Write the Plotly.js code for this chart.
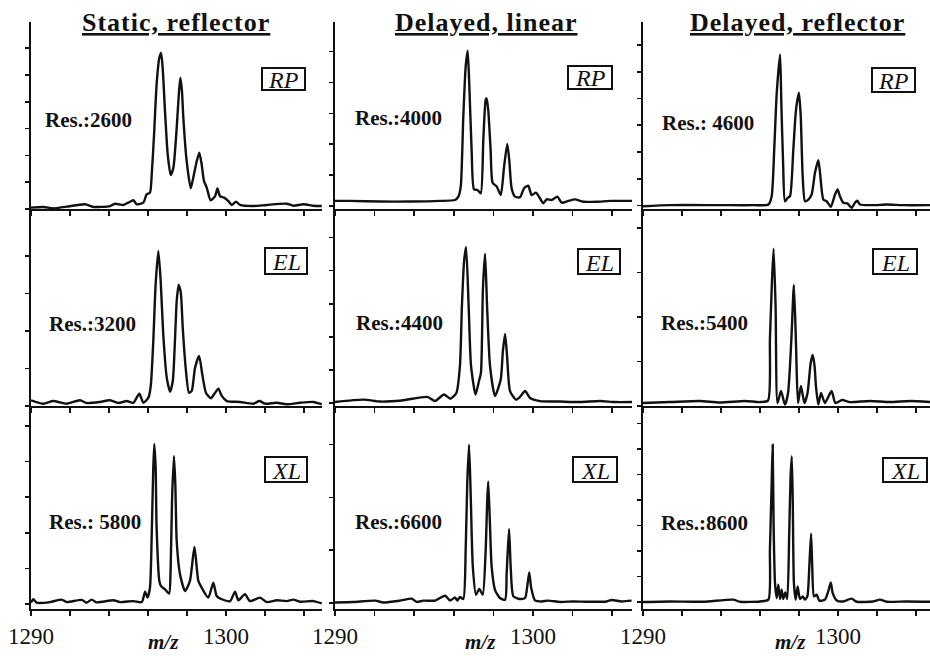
<!DOCTYPE html>
<html>
<head>
<meta charset="utf-8">
<script src="https://cdn.plot.ly/plotly-3.0.1.min.js"></script>
<style>
  html, body { margin: 0; padding: 0; background: #ffffff; }
  #chart { width: 930px; height: 656px; }
</style>
</head>
<body>
<div id="chart"></div>
<script>
// ---- Spectra: m/z and relative intensity (tallest peak of each trace = 100) ----

// Static extraction, reflector mode
const mzStaticRP = [1290.0,1290.63,1291.15,1291.83,1292.77,1293.2,1294.05,1294.31,1294.74,1294.99,1295.25,1295.42,1295.76,1295.93,1296.1,1296.19,1296.31,1296.44,1296.58,1296.67,1296.75,1296.87,1297.01,1297.16,1297.3,1297.47,1297.59,1297.66,1297.74,1297.81,1297.98,1298.19,1298.32,1298.5,1298.63,1298.75,1298.87,1299.01,1299.21,1299.44,1299.56,1299.69,1299.9,1300.12,1300.29,1300.51,1300.72,1301.4,1302.09,1303.11,1303.45,1303.97,1304.48,1304.91];
const intStaticRP = [0.9,1.3,0.4,1.5,3.0,1.3,1.9,3.4,2.6,4.1,5.6,3.0,4.1,9.4,10.5,22.2,47.9,79.9,97,100,90.6,62.8,35,21.8,26.5,52.1,75.6,84.2,75.6,58.5,30.8,13.2,20.1,30.8,36.1,28.6,17.9,13.7,5.6,8.3,13.2,8.3,7.3,5.1,2.6,4.7,2.6,1.9,2.6,3.4,2.1,3.0,2.1,1.9];

const mzStaticEL = [1290.0,1290.63,1291.14,1291.83,1292.51,1292.86,1293.54,1294.05,1294.48,1294.91,1295.25,1295.55,1295.76,1296.02,1296.14,1296.27,1296.39,1296.53,1296.65,1296.78,1296.96,1297.13,1297.27,1297.38,1297.47,1297.57,1297.68,1297.78,1297.93,1298.1,1298.24,1298.41,1298.62,1298.78,1298.97,1299.22,1299.44,1299.61,1299.78,1300.04,1300.72,1301.4,1301.71,1302.0,1302.6,1303.11,1303.79,1304.48,1304.91];
const intStaticEL = [3.7,1.5,3.2,1.5,3.7,1.9,2.6,3.7,1.9,3.2,2.1,7.9,2.1,5.4,12.9,41.9,78.5,100,80.6,46.3,18.3,9.2,16.1,41.9,67.7,78.1,73.1,50.5,24.7,8.6,9.7,24.7,32.3,20.5,8.6,5.0,8.6,11.2,6.5,3.2,2.6,1.5,3.2,1.5,2.1,1.1,2.1,2.6,1.1];

const mzStaticXL = [1290.0,1290.12,1290.29,1290.97,1291.57,1291.83,1292.6,1292.85,1293.11,1293.37,1294.22,1294.56,1295.25,1295.68,1295.85,1295.97,1296.1,1296.19,1296.27,1296.32,1296.39,1296.44,1296.58,1296.67,1296.87,1297.08,1297.16,1297.23,1297.33,1297.4,1297.47,1297.64,1297.9,1298.15,1298.38,1298.58,1298.75,1299.09,1299.35,1299.52,1299.78,1300.21,1300.46,1300.63,1300.97,1301.23,1301.74,1302.09,1302.6,1303.11,1303.45,1303.79,1304.48,1304.91];
const intStaticXL = [3.8,5.9,3.8,4.2,5.7,4.2,5.5,3.8,5.7,4.0,5.3,4.2,4.8,4.2,10.5,6.9,12.9,45.3,85.7,100,85.7,49.3,17,13.9,11.9,9.3,25,65.5,92.7,75.6,41.2,21,10.9,17,37.6,17,12.9,6.9,16,7.9,5.9,4.8,10.5,5.3,8.9,4.8,6.9,4.2,5.3,4.8,5.7,4.4,4.8,3.4];

// Delayed extraction, linear mode
const mzLinearRP = [1290.0,1290.76,1292.27,1293.79,1295.3,1296.06,1296.23,1296.35,1296.48,1296.6,1296.7,1296.78,1296.9,1297.02,1297.19,1297.36,1297.49,1297.61,1297.66,1297.74,1297.86,1297.96,1298.17,1298.37,1298.54,1298.7,1298.8,1298.92,1299.09,1299.34,1299.55,1299.76,1299.93,1300.15,1300.35,1300.52,1300.69,1300.94,1301.23,1301.45,1301.78,1302.12,1302.54,1303.22,1303.89,1305.0];
const intLinearRP = [5.1,5.1,4.7,4.7,5.1,5.7,7.8,14.1,58.3,89.9,100,79.4,37.3,12.4,12,9.9,43.6,68.9,69.9,62.5,37.3,16.6,14.1,8.8,26.7,41.1,31,13.1,7.8,7.4,13.1,14.7,8.8,10.3,6.8,3.6,6.1,5.7,7.8,4,5.1,6.1,4.6,4.6,5.1,5.1];

const mzLinearEL = [1290.0,1291.44,1292.27,1293.38,1294.66,1295.05,1295.5,1295.83,1296.13,1296.31,1296.41,1296.52,1296.62,1296.75,1296.87,1297.1,1297.27,1297.37,1297.47,1297.58,1297.68,1297.83,1298.08,1298.37,1298.48,1298.59,1298.69,1298.84,1299.14,1299.34,1299.6,1299.85,1300.35,1301.36,1302.37,1303.38,1304.14,1305.0];
const intLinearEL = [2.5,4.0,2.8,3.5,5.7,3.1,7.2,4.6,8.2,25.2,62.9,91.2,100,62.9,25.2,7.2,15.7,20.8,73.6,95.8,62.9,25.2,6.3,16.7,34.6,45.3,31.4,9.4,4.0,5.7,9.4,5.0,3.1,2.8,2.5,3.1,2.5,2.5];

const mzLinearXL = [1290.0,1290.92,1292.02,1292.44,1293.28,1293.87,1294.13,1294.46,1295.05,1295.56,1295.81,1296.06,1296.18,1296.31,1296.48,1296.6,1296.68,1296.77,1296.86,1296.96,1297.12,1297.29,1297.46,1297.61,1297.69,1297.74,1297.83,1297.91,1298.08,1298.33,1298.59,1298.67,1298.79,1298.88,1299.01,1299.34,1299.6,1299.71,1299.81,1299.91,1300.1,1300.44,1300.77,1301.36,1302.04,1302.71,1303.72,1303.97,1304.48,1304.98];
const intLinearXL = [4.0,4.3,5.1,4.0,5.1,6.3,4.3,5.1,5.1,8.1,5.1,7.1,5.1,7.3,6.1,36.1,76.7,100,66.5,25.9,8.7,12.2,8.7,36.1,66.5,77.7,50.3,25.9,11.7,6.7,5.7,21.9,48.7,23.9,7.7,6.1,6.7,13.8,22.3,12.8,5.2,4.6,5.1,4.3,4.6,4.4,4.6,5.5,4.6,5.1];

// Delayed extraction, reflector mode
const mzReflRP = [1290.0,1291.38,1293.95,1295.66,1296.43,1296.6,1296.73,1296.86,1297.03,1297.09,1297.19,1297.28,1297.42,1297.54,1297.71,1297.85,1298.0,1298.09,1298.19,1298.31,1298.48,1298.65,1298.82,1298.99,1299.08,1299.25,1299.42,1299.63,1299.85,1299.98,1300.1,1300.27,1300.48,1300.7,1300.87,1300.99,1301.13,1301.81,1302.5,1303.35,1304.72];
const intReflRP = [1.8,2.5,2.5,2.5,2.9,8.3,38.5,75.2,100,70.9,27.7,5,7.2,8.3,38.5,64.4,75.2,60.1,21.2,5,6.1,9.4,23.4,31.6,23.4,6.1,5,1.4,9.4,12.6,8.3,4,3.6,0.8,4,5.3,2.9,2.5,2.9,2.5,2.5];

const mzReflEL = [1290.0,1291.38,1292.92,1293.95,1295.23,1296.0,1296.41,1296.51,1296.62,1296.7,1296.8,1296.9,1297.08,1297.28,1297.44,1297.61,1297.74,1297.85,1297.95,1298.1,1298.28,1298.44,1298.6,1298.7,1298.8,1298.87,1298.99,1299.13,1299.33,1299.67,1299.87,1300.21,1300.62,1301.64,1302.67,1303.69,1304.72];
const intReflEL = [1.9,2.5,3.2,2.2,3.2,2.5,3.4,42.6,80.8,100,63.5,1.9,9.5,0.9,8.3,42.6,76.9,38.1,1.9,12.7,1.9,8.3,27.3,32.4,25.4,12.7,0.9,8.3,1.9,9.5,1.9,3.8,2.5,3.2,2.5,3.2,2.5];

const mzReflXL = [1290.0,1291.38,1293.09,1294.63,1294.97,1296.0,1296.43,1296.51,1296.6,1296.65,1296.7,1296.77,1296.86,1296.94,1297.03,1297.11,1297.19,1297.3,1297.4,1297.5,1297.57,1297.63,1297.68,1297.74,1297.83,1297.93,1298.05,1298.19,1298.31,1298.43,1298.53,1298.62,1298.68,1298.77,1298.91,1299.04,1299.33,1299.5,1299.63,1299.73,1299.94,1300.27,1300.7,1300.96,1301.81,1302.15,1302.5,1303.52,1304.72];
const intReflXL = [4.3,4.6,4.4,5.7,4.4,4.6,5.7,36.1,76.7,100,50.3,15.8,6.7,14.8,6.1,11.7,6.1,10.1,6.1,46.3,80.7,92.9,66.5,15.8,5.7,13.8,6.1,7.7,5.7,7.7,25.9,45.8,25.9,7.7,8.7,5.1,5.7,10.7,16.2,9.7,5.2,4.6,6.3,4.4,4.6,5.7,4.4,4.6,4.4];

// ---- Labels ----
const columnTitles = ['Static, reflector', 'Delayed, linear', 'Delayed, reflector'];
const detectorModes = ['RP', 'EL', 'XL'];
const resolutionLabels = [
  ['Res.:2600', 'Res.:4000', 'Res.: 4600'],
  ['Res.:3200', 'Res.:4400', 'Res.:5400'],
  ['Res.: 5800', 'Res.:6600', 'Res.:8600']
];
const xTickValues = [1290, 1292, 1294, 1296, 1298, 1300, 1302, 1304];
const xTickLabels = ['1290', '', '', '', '', '1300', '', ''];
const xAxisTitle = 'm/z';

// rows = detector modes, columns = instrument setups
const spectra = [
  [[mzStaticRP, intStaticRP], [mzLinearRP, intLinearRP], [mzReflRP, intReflRP]],
  [[mzStaticEL, intStaticEL], [mzLinearEL, intLinearEL], [mzReflEL, intReflEL]],
  [[mzStaticXL, intStaticXL], [mzLinearXL, intLinearXL], [mzReflXL, intReflXL]]
];

// ---- Page geometry (pixels) ----
const W = 930, H = 656;
const colSpan = [[31, 322], [335, 632], [643, 930]];
const rowSpan = [[22, 209], [209, 406], [406, 609]];
const colXMax = [1304.92, 1305.0, 1304.72];
// per panel: top of y range, first tick, tick step, tick count
const yStyle = [
  [[119.9, 0, 17.2, 7], [118.1, 1.9, 19.5, 6], [121.0, 2.3, 17.3, 7]],
  [[127.1, 0, 24.2, 5], [123.9, 1.9, 20.8, 6], [125.2, 0, 28.3, 5]],
  [[123.0, 3, 21.6, 6], [123.6, 3.8, 32.1, 4], [123.6, 4.4, 15.5, 8]]
];
const titleCenter = [176, 486, 797];
const resAnchor = [
  [[43, 120], [353, 118], [660, 123]],
  [[47, 324], [354, 323], [659, 323]],
  [[47, 522], [353, 522], [659, 523]]
];
const modeBox = [
  [[262, 305, 68, 90], [568, 612, 66, 89], [872, 915, 68, 92]],
  [[265, 307, 248, 274], [578, 620, 249, 274], [873, 917, 249, 274]],
  [[265, 307, 457, 482], [573, 617, 457, 482], [883, 927, 458, 482]]
];
const mzCenter = [163, 480, 790];

const px = x => x / W;
const py = y => 1 - y / H;
const INK = '#111111';
const SERIF = 'Liberation Serif, Times New Roman, serif';

const traces = [];
const layout = {
  width: W, height: H,
  margin: { l: 0, r: 0, t: 0, b: 0, pad: 0 },
  paper_bgcolor: '#ffffff',
  plot_bgcolor: 'rgba(0,0,0,0)',
  showlegend: false,
  font: { family: SERIF, color: INK, size: 21 },
  annotations: [],
  shapes: []
};

for (let r = 0; r < 3; r++) {
  for (let c = 0; c < 3; c++) {
    const k = r * 3 + c + 1;
    const suffix = k === 1 ? '' : String(k);
    const [mz, inten] = spectra[r][c];
    traces.push({
      type: 'scatter', mode: 'lines',
      x: mz, y: inten,
      xaxis: 'x' + suffix, yaxis: 'y' + suffix,
      line: { color: INK, width: 2.4, shape: 'spline', smoothing: 0.6 },
      hoverinfo: 'skip'
    });

    const [yTop, t0, dt, nt] = yStyle[r][c];
    const yTicks = Array.from({ length: nt }, (_, i) => +(t0 + i * dt).toFixed(2));
    const bottomRow = r === 2;

    layout['xaxis' + suffix] = {
      domain: [px(colSpan[c][0]), px(colSpan[c][1])],
      range: [1290, colXMax[c]],
      anchor: 'y' + suffix,
      showline: true, linecolor: INK, linewidth: 2.2,
      ticks: 'outside', ticklen: 5, tickwidth: 1.6, tickcolor: INK,
      tickmode: 'array', tickvals: xTickValues, ticktext: xTickLabels,
      showticklabels: bottomRow,
      tickfont: { family: SERIF, size: 23, color: INK },
      showgrid: false, zeroline: false, fixedrange: true
    };
    layout['yaxis' + suffix] = {
      domain: [py(rowSpan[r][1]), py(rowSpan[r][0])],
      range: [0, yTop],
      anchor: 'x' + suffix,
      showline: true, linecolor: INK, linewidth: 2,
      ticks: 'outside', ticklen: 4, tickwidth: 1.6, tickcolor: INK,
      tickmode: 'array', tickvals: yTicks,
      showticklabels: false,
      showgrid: false, zeroline: false, fixedrange: true
    };

    // resolution label
    layout.annotations.push({
      xref: 'paper', yref: 'paper',
      x: px(resAnchor[r][c][0]), y: py(resAnchor[r][c][1]),
      xanchor: 'left', yanchor: 'middle',
      text: '<b>' + resolutionLabels[r][c] + '</b>',
      showarrow: false,
      font: { family: SERIF, size: 21, color: INK }
    });

    // boxed detector mode label
    const [bx0, bx1, by0, by1] = modeBox[r][c];
    layout.shapes.push({
      type: 'rect', xref: 'paper', yref: 'paper',
      x0: px(bx0), x1: px(bx1), y0: py(by1), y1: py(by0),
      line: { color: INK, width: 2 }, fillcolor: 'rgba(0,0,0,0)'
    });
    layout.annotations.push({
      xref: 'paper', yref: 'paper',
      x: px((bx0 + bx1) / 2), y: py((by0 + by1) / 2 + 1),
      xanchor: 'center', yanchor: 'middle',
      text: '<i>' + detectorModes[r] + '</i>',
      showarrow: false,
      font: { family: SERIF, size: 24, color: INK }
    });
  }
}

// column headings and x-axis titles
for (let c = 0; c < 3; c++) {
  layout.annotations.push({
    xref: 'paper', yref: 'paper',
    x: px(titleCenter[c]), y: py(22),
    xanchor: 'center', yanchor: 'middle',
    text: '<span style="letter-spacing:1px"><b><u>' + columnTitles[c] + '</u></b></span>',
    showarrow: false,
    font: { family: SERIF, size: 26, color: INK }
  });
  layout.annotations.push({
    xref: 'paper', yref: 'paper',
    x: px(mzCenter[c]), y: py(656),
    xanchor: 'center', yanchor: 'bottom',
    text: '<b><i>' + xAxisTitle + '</i></b>',
    showarrow: false,
    font: { family: SERIF, size: 21, color: INK }
  });
}

Plotly.newPlot('chart', traces, layout, { staticPlot: true, displayModeBar: false });
</script>
</body>
</html>
